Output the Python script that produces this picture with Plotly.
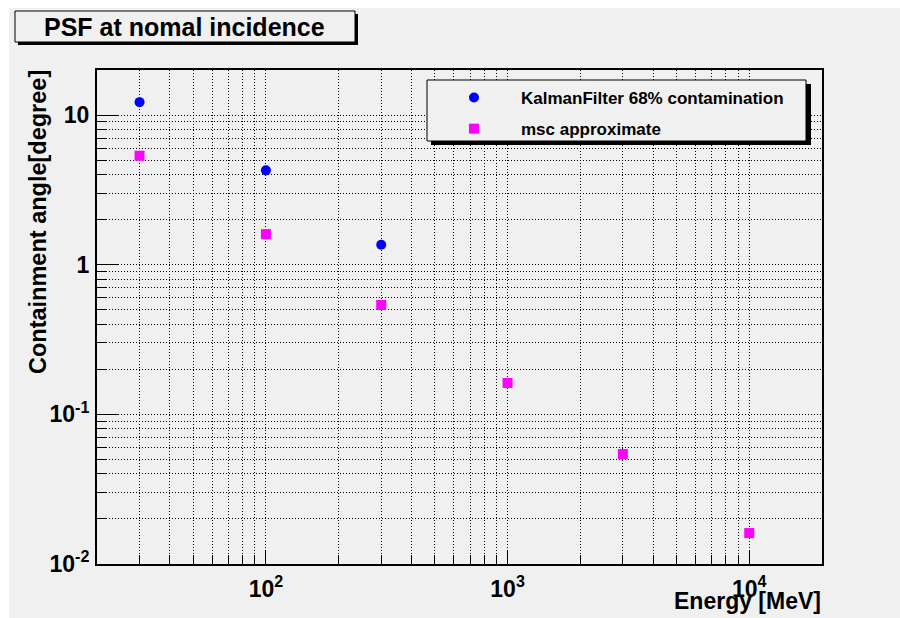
import plotly.graph_objects as go

# ---- data ----
energy_kf = [30, 100, 300]
kf68 = [12.2, 4.27, 1.36]
energy_msc = [30, 100, 300, 1000, 3000, 10000]
msc = [5.35, 1.60, 0.538, 0.162, 0.0543, 0.0161]

series_names = ["KalmanFilter 68% contamination", "msc approximate"]
title_text = "PSF at nomal incidence"
x_title = "Energy [MeV]"
y_title = "Containment angle[degree]"

x_major = [100, 1000, 10000]
x_major_text = ["10<sup>2</sup>", "10<sup>3</sup>", "10<sup>4</sup>"]
y_major = [0.01, 0.1, 1, 10]
y_major_text = ["10<sup>-2</sup>", "10<sup>-1</sup>", "1", "10"]

x_minor = [m * 10 ** d for d in (1, 2, 3, 4) for m in range(2, 10) if 20 <= m * 10 ** d <= 20000]
y_minor = [m * 10.0 ** d for d in (-2, -1, 0, 1) for m in range(2, 10) if m * 10.0 ** d <= 20]

# ---- layout geometry (pixels) ----
W, H = 900, 618
L, R, T, B = 97, 78, 70, 54
PW, PH = W - L - R, H - T - B

def px(x):
    return (x - L) / PW

def py(y):
    return (H - B - y) / PH

FONT = "Liberation Sans, Arial, Helvetica, sans-serif"
GRAY = "#f0f0f0"
DOT = "1px,2px"

fig = go.Figure()
fig.add_trace(go.Scatter(
    x=energy_kf, y=kf68, mode="markers", name=series_names[0], legendgroup="a",
    marker=dict(symbol="circle", size=10, color="#0000ff", line=dict(width=0)),
))
fig.add_trace(go.Scatter(
    x=energy_msc, y=msc, mode="markers", name=series_names[1], legendgroup="b",
    marker=dict(symbol="square", size=10, color="#ff00ff", line=dict(width=0)),
))

axis_common = dict(
    type="log", showline=True, linecolor="black", linewidth=2, mirror=True,
    ticks="inside", tickcolor="black", tickwidth=1,
    showgrid=True, gridcolor="black", gridwidth=1, griddash=DOT,
    zeroline=False,
    tickfont=dict(family=FONT, size=23, color="black", weight="bold"),
)

fig.update_xaxes(
    **axis_common, range=[1.30103, 4.30103], tickmode="array",
    tickvals=x_major, ticktext=x_major_text, ticklen=14, ticklabelstandoff=3,
    minor=dict(tickmode="array", tickvals=x_minor, ticks="inside", ticklen=9,
               tickcolor="black", tickwidth=1, showgrid=True, gridcolor="black",
               gridwidth=1, griddash=DOT),
)
fig.update_yaxes(
    **axis_common, range=[-2, 1.30103], tickmode="array",
    tickvals=y_major, ticktext=y_major_text, ticklen=21, ticklabelstandoff=1,
    minor=dict(tickmode="array", tickvals=y_minor, ticks="inside", ticklen=10,
               tickcolor="black", tickwidth=1, showgrid=True, gridcolor="black",
               gridwidth=1, griddash=DOT),
)

shapes = [
    # canvas gray
    dict(type="rect", xref="paper", yref="paper", layer="below",
         x0=px(9), x1=px(900), y0=py(618), y1=py(8),
         fillcolor=GRAY, line=dict(width=0)),
    # title shadow + box
    dict(type="rect", xref="paper", yref="paper", layer="above",
         x0=px(18), x1=px(358), y0=py(45), y1=py(14),
         fillcolor="black", line=dict(width=0)),
    dict(type="rect", xref="paper", yref="paper", layer="above",
         x0=px(15), x1=px(355), y0=py(42), y1=py(11),
         fillcolor=GRAY, line=dict(color="black", width=1)),
    # legend shadow + box
    dict(type="rect", xref="paper", yref="paper", layer="above",
         x0=px(431), x1=px(811), y0=py(145), y1=py(84),
         fillcolor="black", line=dict(width=0)),
    dict(type="rect", xref="paper", yref="paper", layer="above",
         x0=px(427), x1=px(806), y0=py(141), y1=py(80),
         fillcolor=GRAY, line=dict(color="black", width=1)),
]

annotations = [
    dict(text=title_text, xref="paper", yref="paper", x=px(184), y=py(27),
         xanchor="center", yanchor="middle", showarrow=False,
         font=dict(family=FONT, size=25, color="black", weight="bold")),
    dict(text=y_title, xref="paper", yref="paper", x=px(38), y=py(68),
         xanchor="center", yanchor="top", textangle=-90, showarrow=False,
         font=dict(family=FONT, size=23.5, color="black", weight="bold")),
    dict(text=x_title, xref="paper", yref="paper", x=px(823), y=py(601),
         xanchor="right", yanchor="middle", showarrow=False,
         font=dict(family=FONT, size=23, color="black", weight="bold")),
]

fig.update_layout(
    width=W, height=H,
    margin=dict(l=L, r=R, t=T, b=B, autoexpand=False),
    paper_bgcolor="white", plot_bgcolor=GRAY,
    shapes=shapes, annotations=annotations,
    showlegend=True,
    legend=dict(
        x=px(427), y=py(80), xanchor="left", yanchor="top",
        bgcolor="rgba(0,0,0,0)", borderwidth=0,
        font=dict(family=FONT, size=17, color="black", weight="bold"),
        itemwidth=84, traceorder="grouped", tracegroupgap=6,
    ),
)

fig.write_html("out.html")
